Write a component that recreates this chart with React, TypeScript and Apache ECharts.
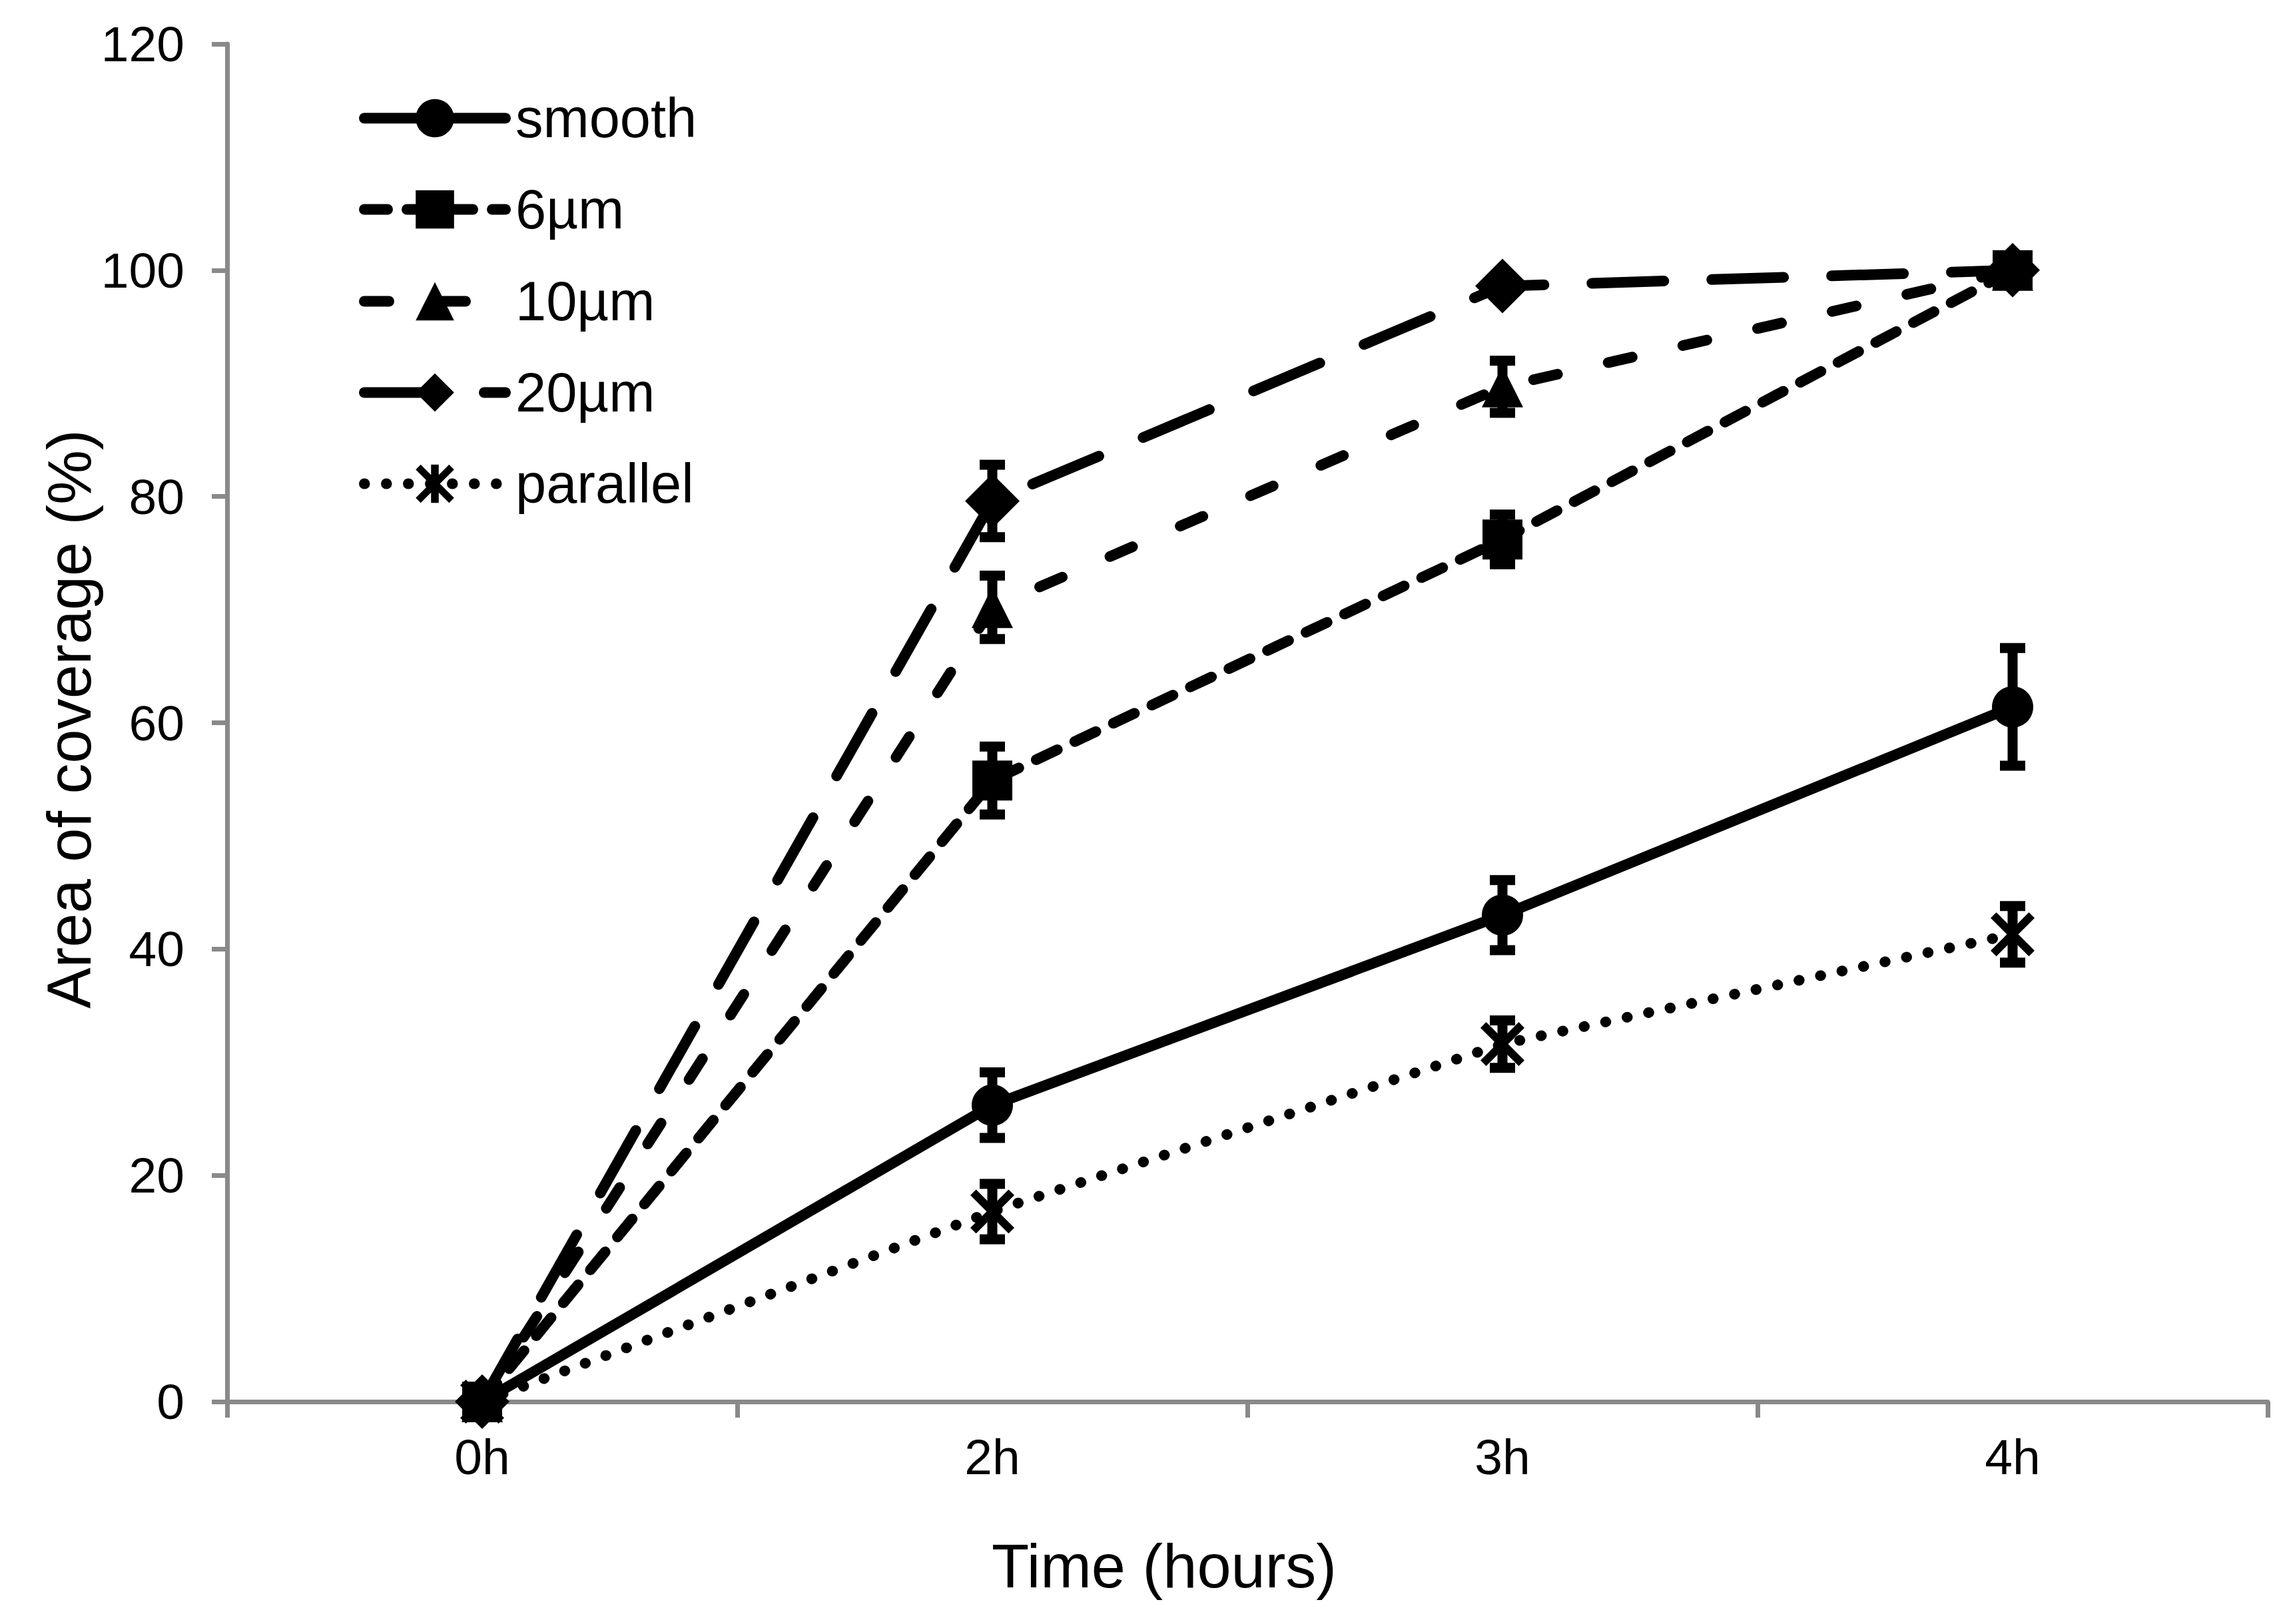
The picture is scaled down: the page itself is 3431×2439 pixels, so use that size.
import React, { useEffect, useRef } from "react";
import * as echarts from "echarts";

// ---- data ----
const categories = ["0h", "2h", "3h", "4h"];
const seriesNames = ["smooth", "6µm", "10µm", "20µm", "parallel"];

const smooth = [0, 26.2, 43.0, 61.4];
const smoothErr = [0, 2.9, 3.1, 5.2];
const um6 = [0, 54.9, 76.2, 100];
const um6Err = [0, 3.0, 2.2, 0];
const um10 = [0, 70.2, 89.7, 100];
const um10Err = [0, 2.8, 2.3, 0];
const um20 = [0, 79.6, 98.6, 100];
const um20Err = [0, 3.2, 0.8, 0];
const parallel = [0, 16.8, 31.6, 41.3];
const parallelErr = [0, 2.45, 2.1, 2.5];

const yMin = 0;
const yMax = 120;
const yStep = 20;

const xTitle = "Time (hours)";
const yTitle = "Area of coverage (%)";

// ---- styles ----
const FONT = '"Liberation Sans", Arial, Helvetica, sans-serif';
const AX = "#898989";
const STAR =
  "path://M40 0 L60 0 L60 100 L40 100 Z M0 13 L13 0 L100 87 L87 100 Z M87 0 L100 13 L13 100 L0 87 Z";

const values = [smooth, um6, um10, um20, parallel];
const errors = [smoothErr, um6Err, um10Err, um20Err, parallelErr];
const looks: any[] = [
  { symbol: "circle", size: 62, dash: "solid" },
  { symbol: "rect", size: 60, dash: [35, 29] },
  { symbol: "triangle", size: 62, dash: [37, 78] },
  { symbol: "diamond", size: 82, dash: [108, 72] },
  { symbol: STAR, size: 66, dash: [0.5, 32.5] },
];
const legendRows = [172, 309, 447, 584, 721];

export default function App() {
  const ref = useRef<HTMLDivElement>(null);
  useEffect(() => {
    document.body.style.margin = "0";
    if (!ref.current) return;
    const chart = echarts.init(ref.current, undefined, { renderer: "svg" });

    const errData: number[][] = [];
    values.forEach((vals, s) =>
      vals.forEach((v, i) => {
        if (errors[s][i] > 0) errData.push([i, v, errors[s][i]]);
      })
    );

    const lineSeries = seriesNames.map((name, s) => ({
      name,
      type: "line",
      data: values[s],
      symbol: looks[s].symbol,
      symbolSize: looks[s].size,
      showSymbol: true,
      showAllSymbol: true,
      itemStyle: { color: "#000", borderWidth: 0 },
      lineStyle: {
        color: "#000",
        width: 16,
        type: looks[s].dash,
        cap: "round",
        join: "round",
      },
      emphasis: { disabled: true },
      z: 2,
    }));

    const errSeries = {
      type: "custom",
      data: errData,
      encode: { x: 0, y: 1 },
      z: 3,
      silent: true,
      renderItem: (params: any, api: any) => {
        const i = api.value(0);
        const v = api.value(1);
        const e = api.value(2);
        const top = api.coord([i, v + e]);
        const bot = api.coord([i, v - e]);
        const hw = 19;
        const style = { stroke: "#000", lineWidth: 15 };
        return {
          type: "group",
          children: [
            { type: "line", shape: { x1: top[0], y1: top[1], x2: bot[0], y2: bot[1] }, style },
            { type: "line", shape: { x1: top[0] - hw, y1: top[1], x2: top[0] + hw, y2: top[1] }, style },
            { type: "line", shape: { x1: bot[0] - hw, y1: bot[1], x2: bot[0] + hw, y2: bot[1] }, style },
          ],
        };
      },
    };

    const legends = seriesNames.map((name, s) => ({
      data: [name],
      orient: "vertical",
      left: 539,
      top: legendRows[s] - 36,
      padding: 0,
      itemWidth: 212,
      itemHeight: 72,
      selectedMode: false,
      lineStyle: { width: "inherit", type: "inherit", cap: "inherit" },
      textStyle: {
        fontSize: 83,
        fontFamily: FONT,
        color: "#000",
        lineHeight: 72,
        padding: [0, 0, 0, 10],
      },
    }));

    chart.setOption({
      animation: false,
      backgroundColor: "#fff",
      grid: { left: 341, right: 26, top: 66, bottom: 334, containLabel: false },
      legend: legends,
      xAxis: {
        type: "category",
        data: categories,
        boundaryGap: true,
        axisLine: { show: true, lineStyle: { color: AX, width: 7 } },
        axisTick: { show: true, length: 24, alignWithLabel: false, lineStyle: { color: AX, width: 7 } },
        axisLabel: { fontSize: 75, lineHeight: 75, color: "#000", fontFamily: FONT, margin: 45 },
        splitLine: { show: false },
      },
      yAxis: {
        type: "value",
        min: yMin,
        max: yMax,
        interval: yStep,
        axisLine: { show: true, lineStyle: { color: AX, width: 7 } },
        axisTick: { show: true, length: 23, lineStyle: { color: AX, width: 7 } },
        axisLabel: { fontSize: 75, color: "#000", fontFamily: FONT, margin: 64 },
        splitLine: { show: false },
      },
      graphic: [
        {
          type: "text",
          x: 104,
          y: 1080,
          rotation: Math.PI / 2,
          style: {
            text: yTitle,
            fontSize: 92,
            fontFamily: FONT,
            fill: "#000",
            align: "center",
            verticalAlign: "middle",
            textAlign: "center",
            textVerticalAlign: "middle",
          },
        },
        {
          type: "text",
          x: 1748,
          y: 2352,
          style: {
            text: xTitle,
            fontSize: 92,
            fontFamily: FONT,
            fill: "#000",
            align: "center",
            verticalAlign: "middle",
            textAlign: "center",
            textVerticalAlign: "middle",
          },
        },
      ],
      series: [...lineSeries, errSeries],
    });

    return () => chart.dispose();
  }, []);

  return <div ref={ref} style={{ width: 3431, height: 2439 }} />;
}
